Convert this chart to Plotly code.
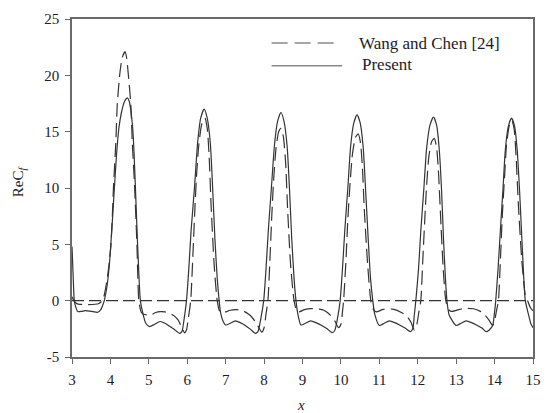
import plotly.graph_objects as go

# ---- data ----
present_x = [3.00, 3.03, 3.06, 3.10, 3.15, 3.25, 3.34, 3.50, 3.67, 3.74, 3.80, 3.84,
             3.92, 3.98, 4.04, 4.10, 4.16, 4.22, 4.30, 4.37, 4.44, 4.49, 4.53, 4.58, 4.61, 4.65, 4.69, 4.73, 4.78,
             4.85, 4.92, 5.02, 5.15, 5.29, 5.42, 5.55, 5.68, 5.80, 5.86, 5.92, 5.98,
             6.04, 6.10, 6.19, 6.27, 6.35, 6.44, 6.52, 6.60, 6.66, 6.72, 6.78, 6.83,
             6.87, 6.93, 7.00, 7.12, 7.25, 7.38, 7.51, 7.65, 7.77, 7.84, 7.92, 7.99,
             8.05, 8.11, 8.19, 8.27, 8.35, 8.44, 8.52, 8.60, 8.66, 8.72, 8.78, 8.83,
             8.88, 8.96, 9.08, 9.21, 9.35, 9.50, 9.64, 9.77, 9.84, 9.92, 9.98,
             10.04, 10.10, 10.18, 10.25, 10.33, 10.42, 10.50, 10.58, 10.64, 10.71, 10.77, 10.83,
             10.88, 11.00, 11.13, 11.26, 11.40, 11.55, 11.68, 11.81, 11.87, 11.91, 11.95,
             12.02, 12.08, 12.16, 12.23, 12.32, 12.41, 12.49, 12.56, 12.62, 12.67, 12.72, 12.76,
             12.82, 13.00, 13.13, 13.26, 13.40, 13.55, 13.68, 13.78, 13.86, 13.95, 14.00, 14.03,
             14.09, 14.15, 14.22, 14.28, 14.36, 14.44, 14.52, 14.59, 14.65, 14.71, 14.76, 14.80,
             14.88, 14.95, 15.00]
present_y = [4.8, 2.2, 0.0, -0.6, -0.97, -0.95, -0.89, -0.95, -1.03, -0.85, -0.4, 0.0,
             1.5, 3.5, 6.5, 9.8, 13.0, 15.3, 16.9, 17.7, 18.0, 17.7, 16.9, 15.3, 13.5, 10.1, 6.5, 3.2, 0.0,
             -1.2, -2.0, -2.3, -2.1, -1.85, -2.0, -2.3, -2.6, -2.9, -2.75, -1.6, 0.0,
             2.8, 6.2, 10.1, 14.0, 16.2, 17.0, 16.2, 14.0, 10.1, 5.5, 2.0, 0.0,
             -1.1, -1.8, -2.16, -2.0, -1.8, -1.95, -2.2, -2.55, -2.9, -2.75, -1.5, 0.0,
             2.8, 6.2, 10.0, 13.8, 15.9, 16.7, 15.9, 13.7, 10.0, 5.5, 2.0, 0.0,
             -1.2, -2.16, -2.0, -1.8, -1.95, -2.2, -2.5, -2.84, -2.65, -1.4, 0.0,
             2.8, 6.2, 10.0, 13.6, 15.7, 16.5, 15.8, 13.6, 10.0, 5.5, 2.0, 0.0,
             -1.2, -2.2, -2.0, -1.8, -1.95, -2.2, -2.45, -2.75, -2.5, -1.3, 0.0,
             2.8, 6.2, 10.0, 13.5, 15.6, 16.3, 15.6, 13.4, 9.8, 5.5, 2.0, 0.0,
             -1.3, -2.2, -2.0, -1.8, -1.95, -2.2, -2.45, -2.75, -2.6, -2.2, -1.0, 0.0,
             2.8, 6.2, 10.0, 13.4, 15.5, 16.2, 15.5, 13.3, 9.8, 5.5, 2.0, 0.0,
             -1.2, -2.1, -2.4]

wang_x = [3.00, 3.05, 3.10, 3.16, 3.40, 3.60, 3.70, 3.76, 3.80, 3.88, 3.95, 4.01, 4.05, 4.08, 4.11, 4.14,
          4.18, 4.25, 4.31, 4.38, 4.42, 4.46, 4.53, 4.57, 4.63, 4.69, 4.74,
          4.80, 4.86, 5.04, 5.18, 5.29, 5.42, 5.55, 5.66, 5.76, 5.86, 5.93, 5.98, 6.03, 6.09,
          6.14, 6.19, 6.24, 6.30, 6.38, 6.46, 6.52, 6.57, 6.62, 6.70, 6.78,
          6.84, 6.90, 7.00, 7.12, 7.30, 7.45, 7.60, 7.68, 7.80, 7.94, 8.00, 8.05, 8.10,
          8.15, 8.20, 8.25, 8.31, 8.38, 8.44, 8.50, 8.56, 8.61, 8.69, 8.78,
          8.84, 8.90, 9.05, 9.21, 9.51, 9.63, 9.73, 9.84, 9.94, 10.00, 10.04, 10.07,
          10.13, 10.18, 10.24, 10.30, 10.38, 10.45, 10.51, 10.56, 10.61, 10.70, 10.78,
          10.85, 10.92, 11.10, 11.35, 11.60, 11.72, 11.82, 11.91, 11.97, 12.03, 12.08,
          12.13, 12.18, 12.23, 12.29, 12.36, 12.43, 12.49, 12.54, 12.59, 12.66, 12.73,
          12.80, 12.88, 13.18, 13.45, 13.63, 13.73, 13.85, 13.95, 14.00, 14.05, 14.10,
          14.15, 14.20, 14.26, 14.31, 14.38, 14.45, 14.51, 14.56, 14.62, 14.71, 14.80,
          14.86, 14.93, 15.00]
wang_y = [0.35, 0.0, -0.2, -0.3, -0.35, -0.32, -0.25, -0.1, 0.0, 1.2, 2.8, 4.8, 7.5, 10.1, 12.0, 14.0,
          17.5, 20.3, 21.6, 22.1, 21.6, 20.3, 17.5, 14.0, 10.1, 5.0, 0.0,
          -1.0, -1.2, -1.27, -1.05, -0.97, -1.0, -1.12, -1.35, -1.71, -2.4, -2.85, -2.6, -1.5, 0.0,
          3.5, 7.5, 11.0, 13.8, 15.7, 16.2, 15.3, 12.8, 8.5, 3.2, 0.0,
          -0.9, -1.1, -1.0, -0.85, -0.8, -0.9, -1.2, -1.45, -2.0, -2.8, -2.4, -1.2, 0.0,
          3.5, 7.5, 10.8, 13.5, 15.0, 15.3, 14.6, 12.3, 8.3, 3.2, 0.0,
          -0.8, -1.0, -0.8, -0.7, -0.8, -1.0, -1.3, -1.8, -2.4, -2.1, -1.0, 0.0,
          3.5, 7.2, 10.5, 13.0, 14.5, 14.8, 14.0, 11.8, 8.0, 3.0, 0.0,
          -0.8, -1.0, -0.78, -0.75, -1.1, -1.4, -1.9, -2.6, -2.2, -1.0, 0.0,
          3.5, 7.0, 10.2, 12.8, 14.1, 14.4, 13.6, 11.4, 7.8, 3.0, 0.0,
          -0.8, -0.95, -0.7, -0.72, -0.95, -1.2, -1.7, -2.2, -1.8, -0.9, 0.0,
          3.5, 7.5, 11.0, 13.8, 15.5, 16.0, 15.2, 12.8, 8.5, 3.5, 0.5,
          0.0, -0.6, -0.9]

zero_x = [3, 15]
zero_y = [0, 0]

x_ticks = [3, 4, 5, 6, 7, 8, 9, 10, 11, 12, 13, 14, 15]
x_tick_text = ["3", "4", "5", "6", "7", "8", "9", "10", "11", "12", "13", "14", "15"]
y_ticks = [-5, 0, 5, 10, 15, 20, 25]
y_tick_text = ["-5", "0", "5", "10", "15", "20", "25"]
legend_names = ["Wang and Chen [24]", "Present"]

FONT = "Liberation Serif, Times New Roman, serif"
LINE = "#333333"
AX = "#6a6a6a"
TXT = "#1c1c28"

fig = go.Figure()
fig.add_trace(go.Scatter(x=zero_x, y=zero_y, mode="lines", showlegend=False,
                         line=dict(color=LINE, width=1.2, dash="12px,5px")))
fig.add_trace(go.Scatter(x=wang_x, y=wang_y, mode="lines", name=legend_names[0], showlegend=False,
                         line=dict(color=LINE, width=1.2, dash="14px,6px", shape="spline", smoothing=0.6)))
fig.add_trace(go.Scatter(x=present_x, y=present_y, mode="lines", name=legend_names[1], showlegend=False,
                         line=dict(color=LINE, width=1.2, shape="spline", smoothing=0.6)))

axis_common = dict(showgrid=False, zeroline=False, showline=True, mirror=True,
                   linecolor=AX, linewidth=1.5, ticks="outside", ticklen=5,
                   tickcolor=AX, tickwidth=1.2,
                   tickfont=dict(family=FONT, size=15, color=TXT))

fig.update_xaxes(range=[3, 15], tickvals=x_ticks, ticktext=x_tick_text, ticklabelstandoff=3, **axis_common)
fig.update_yaxes(range=[-5, 25], tickvals=y_ticks, ticktext=y_tick_text, ticklabelstandoff=3, **axis_common)

# legend drawn as paper-referenced samples + labels
fig.add_shape(type="line", xref="paper", yref="paper", x0=0.433, x1=0.571, y0=0.929, y1=0.929,
              line=dict(color="#8a8a8a", width=1.5, dash="16px,7px"))
fig.add_shape(type="line", xref="paper", yref="paper", x0=0.433, x1=0.586, y0=0.862, y1=0.862,
              line=dict(color="#8a8a8a", width=1.5))
fig.add_annotation(text=legend_names[0], xref="paper", yref="paper", x=0.618, y=0.928,
                   xanchor="left", yanchor="middle", showarrow=False,
                   font=dict(family=FONT, size=17, color=TXT))
fig.add_annotation(text=legend_names[1], xref="paper", yref="paper", x=0.625, y=0.864,
                   xanchor="left", yanchor="middle", showarrow=False,
                   font=dict(family=FONT, size=17, color=TXT))

# axis titles
fig.add_annotation(text="ReC<sub><i>f</i></sub>", xref="paper", yref="paper", x=-0.115, y=0.52,
                   xanchor="center", yanchor="middle", showarrow=False, textangle=-90,
                   font=dict(family=FONT, size=15, color=TXT))
fig.add_annotation(text="<i>x</i>", xref="paper", yref="paper", x=0.497, y=-0.113,
                   xanchor="center", yanchor="top", showarrow=False,
                   font=dict(family=FONT, size=15, color=TXT))

fig.update_layout(width=550, height=413, margin=dict(l=72, r=9, t=19, b=56),
                  paper_bgcolor="white", plot_bgcolor="white", showlegend=False)

fig.write_html("out.html")
